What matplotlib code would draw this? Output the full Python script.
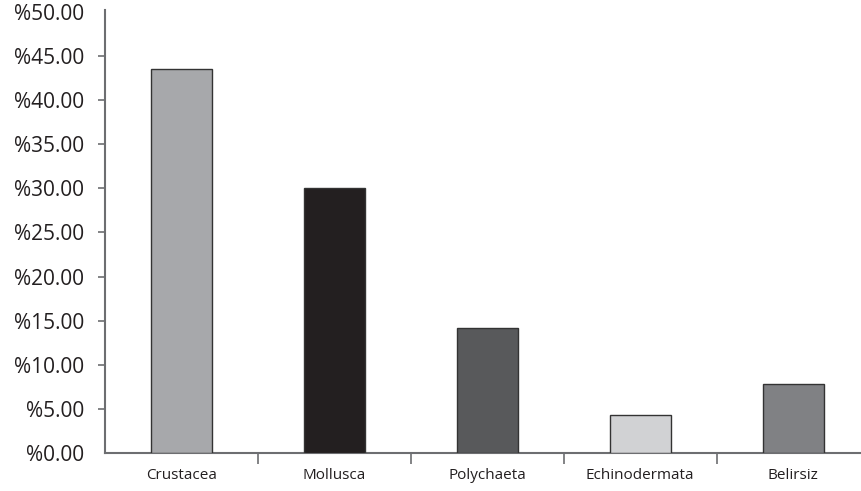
import matplotlib.pyplot as plt
from matplotlib.ticker import FixedLocator, FuncFormatter

# Veriler
categories = ['Crustacea', 'Mollusca', 'Polychaeta', 'Echinodermata', 'Belirsiz']
values = [43.5, 30.0, 14.2, 4.3, 7.8]
colors = ['#a7a8ab', '#231f20', '#58595b', '#d1d2d4', '#808184']

plt.rcParams['font.family'] = ['Open Sans', 'DejaVu Sans']

fig = plt.figure(figsize=(8.61, 4.91), dpi=100)
ax = fig.add_axes([105 / 861, 38 / 491, 1 - 105 / 861 + 0.01, 443 / 491])

x = list(range(len(categories)))
ax.bar(x, values, width=0.4, color=colors, edgecolor='#333333', linewidth=1.0, zorder=3)

ax.set_xlim(-0.5, 4.5)
ax.set_ylim(0, 50.2)

# Y ekseni
ax.yaxis.set_major_locator(FixedLocator([0, 5, 10, 15, 20, 25, 30, 35, 40, 45, 50]))
ax.yaxis.set_major_formatter(FuncFormatter(lambda v, p: f'%{v:.2f}'))
ax.tick_params(axis='y', direction='out', length=5, width=1.2, color='#6d6e71',
               labelsize=15, labelcolor='#231f20', pad=10)

# X ekseni: çizgiler kategorilerin arasında, etiketler ortada
ax.xaxis.set_major_locator(FixedLocator([0.5, 1.5, 2.5, 3.5]))
ax.xaxis.set_major_formatter(FuncFormatter(lambda v, p: ''))
ax.xaxis.set_minor_locator(FixedLocator(x))
ax.set_xticklabels(categories, minor=True)
ax.tick_params(axis='x', which='major', direction='out', length=8, width=1.2, color='#6d6e71')
ax.tick_params(axis='x', which='minor', length=0, labelsize=11, labelcolor='#231f20', pad=11)

for s in ['top', 'right']:
    ax.spines[s].set_visible(False)
for s in ['left', 'bottom']:
    ax.spines[s].set_color('#6d6e71')
    ax.spines[s].set_linewidth(1.5)

# 0 ve 50 için çizgi yok
ticks = ax.yaxis.get_major_ticks()
ticks[0].tick1line.set_visible(False)
ticks[-1].tick1line.set_visible(False)

fig.savefig('out.png', dpi=100)
